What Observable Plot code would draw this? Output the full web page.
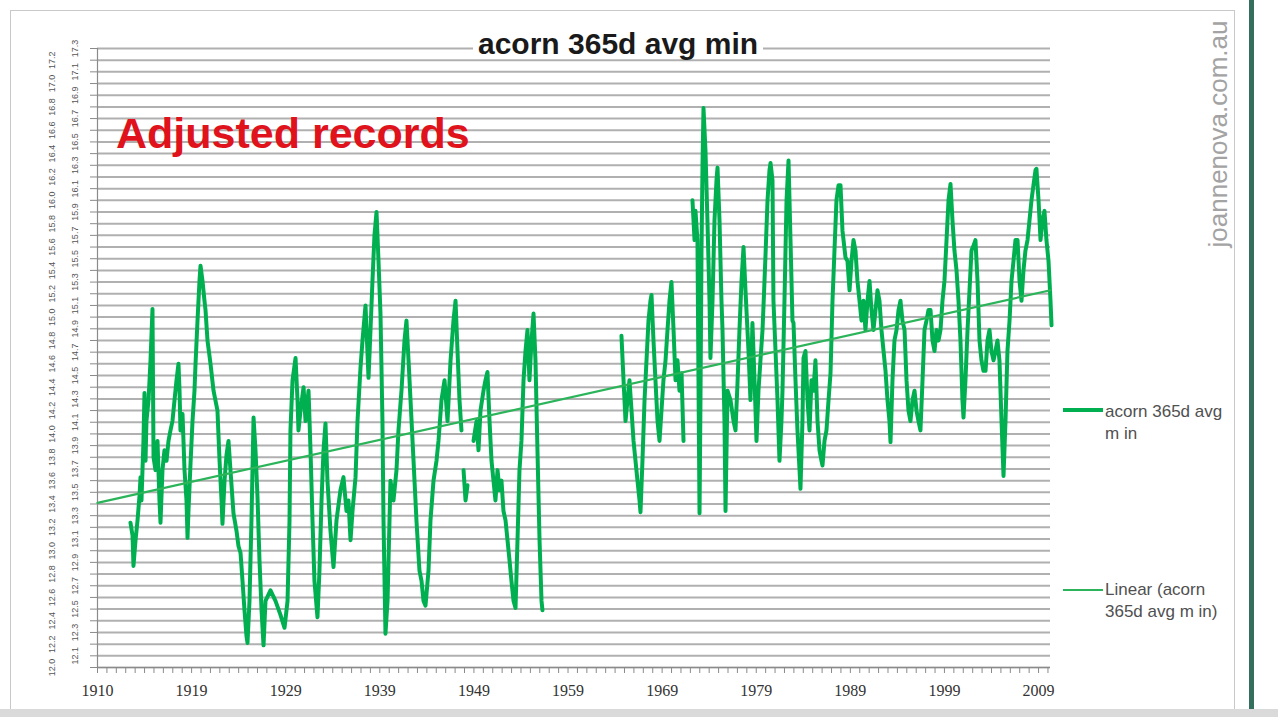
<!DOCTYPE html>
<html><head><meta charset="utf-8">
<script src="https://cdn.jsdelivr.net/npm/d3@7"></script>
<script src="https://cdn.jsdelivr.net/npm/@observablehq/plot@0.6"></script>
<style>
html,body{margin:0;padding:0;background:#fff;}
#wrap{position:relative;width:1278px;height:717px;overflow:hidden;background:#fff;font-family:"Liberation Sans",Arial,sans-serif;}
.abs{position:absolute;white-space:nowrap;}
#frame{left:10px;top:10px;width:1223px;height:730px;border:1px solid #c9c9c9;}
#chart{left:0;top:0;}
#title{left:473px;top:29px;font-weight:bold;font-size:30px;line-height:30px;color:#1a1a1a;background:#fff;padding:0 5px;}
#red{left:116px;top:112px;font-weight:bold;font-size:43px;line-height:43px;color:#e0121b;}
.leg{font-size:17px;line-height:22px;color:#505050;left:1105px;}
.legline{left:1063px;width:40px;}
#wm{left:1098px;top:119px;width:240px;height:30px;line-height:30px;text-align:center;font-size:26px;color:#a3a3a3;transform:rotate(-90deg);}
#gline{left:1249px;top:0;width:5px;height:717px;background:#336f5c;}
#bottom{left:0;top:709px;width:1278px;height:8px;background:#dadada;}
</style></head><body><div id="wrap">
<div class="abs" id="frame"></div>
<div class="abs" id="chart"></div>
<div class="abs" id="title">acorn 365d avg min</div>
<div class="abs" id="red">Adjusted records</div>
<div class="abs legline" style="top:408px;height:4px;background:#00b050;"></div>
<div class="abs leg" style="top:401px;">acorn 365d avg<br>m in</div>
<div class="abs legline" style="top:589px;height:2px;background:#2bb45a;"></div>
<div class="abs leg" style="top:579px;">Linear (acorn<br>365d avg m in)</div>
<div class="abs" id="wm">joannenova.com.au</div>
<div class="abs" id="gline"></div>
<div class="abs" id="bottom"></div>
</div>
<script>
// acorn 365-day average minimum: [year, value]; null = gap in record
const tminPoints = [
[1913.50,13.24],[1913.72,13.13],[1913.82,12.87],[1914.04,13.09],[1914.25,13.26],[1914.46,13.47],[1914.57,13.63],[1914.67,13.43],[1914.88,13.94],[1914.99,14.35],[1915.10,13.77],[1915.20,14.11],[1915.42,14.29],[1915.63,14.63],[1915.84,15.07],[1915.95,13.80],[1916.16,13.69],[1916.37,13.94],[1916.58,13.43],[1916.69,13.24],[1916.90,13.69],[1917.11,13.86],[1917.33,13.77],[1917.54,13.94],[1917.75,14.03],[1917.96,14.11],[1918.18,14.29],[1918.39,14.46],[1918.60,14.60],[1918.71,14.37],[1918.81,14.03],[1919.03,14.17],[1919.24,13.69],[1919.45,13.43],[1919.56,13.11],[1919.66,13.34],[1919.88,13.75],[1920.09,14.11],[1920.30,14.37],[1920.41,14.60],[1920.62,14.97],[1920.83,15.31],[1920.94,15.44],[1921.15,15.31],[1921.36,15.14],[1921.47,15.06],[1921.68,14.80],[1922.00,14.60],[1922.32,14.37],[1922.74,14.20],[1922.96,13.77],[1923.17,13.43],[1923.27,13.23],[1923.49,13.60],[1923.70,13.82],[1923.91,13.94],[1924.12,13.69],[1924.44,13.32],[1924.76,13.17],[1924.97,13.04],[1925.19,12.98],[1925.40,12.74],[1925.61,12.49],[1925.82,12.27],[1925.93,12.21],[1926.14,12.57],[1926.35,13.26],[1926.57,14.14],[1926.78,13.86],[1926.99,13.46],[1927.20,12.92],[1927.42,12.49],[1927.63,12.19],[1927.84,12.57],[1928.37,12.66],[1928.90,12.57],[1929.43,12.45],[1929.86,12.34],[1930.18,12.57],[1930.39,13.26],[1930.49,14.03],[1930.71,14.46],[1931.03,14.65],[1931.24,14.29],[1931.34,14.03],[1931.56,14.20],[1931.88,14.40],[1932.09,14.11],[1932.41,14.37],[1932.62,13.86],[1932.83,13.26],[1933.04,12.74],[1933.36,12.43],[1933.57,12.83],[1933.79,13.43],[1934.00,13.86],[1934.21,14.09],[1934.42,13.60],[1934.74,13.17],[1935.06,12.86],[1935.38,13.26],[1935.80,13.52],[1936.12,13.63],[1936.44,13.34],[1936.65,13.43],[1936.87,13.09],[1937.08,13.34],[1937.40,13.63],[1937.61,14.11],[1937.93,14.57],[1938.14,14.80],[1938.46,15.10],[1938.78,14.48],[1938.99,14.89],[1939.20,15.31],[1939.41,15.70],[1939.63,15.90],[1939.84,15.48],[1940.05,15.03],[1940.26,14.11],[1940.37,13.26],[1940.58,12.29],[1940.80,12.57],[1941.11,13.60],[1941.43,13.43],[1941.75,13.69],[1941.96,14.03],[1942.28,14.37],[1942.60,14.80],[1942.81,14.97],[1943.03,14.63],[1943.24,14.29],[1943.56,13.77],[1943.87,13.26],[1944.19,12.83],[1944.41,12.74],[1944.62,12.57],[1944.83,12.53],[1945.15,12.83],[1945.36,13.26],[1945.68,13.60],[1946.00,13.77],[1946.21,13.94],[1946.53,14.29],[1946.85,14.46],[1947.17,14.11],[1947.49,14.63],[1947.80,14.97],[1948.02,15.14],[1948.23,14.71],[1948.44,14.29],[1948.65,14.03],
[1948.76,null],
[1948.87,13.69],[1949.08,13.43],[1949.29,13.56],
[1949.60,null],
[1949.93,13.94],[1950.25,14.11],[1950.46,13.86],[1950.67,14.20],[1950.99,14.37],[1951.20,14.46],[1951.41,14.53],[1951.63,14.11],[1951.84,13.77],[1952.05,13.60],[1952.26,13.43],[1952.48,13.69],[1952.69,13.52],[1952.90,13.60],[1953.11,13.34],[1953.33,13.26],[1953.54,13.09],[1953.75,12.92],[1953.96,12.74],[1954.18,12.57],[1954.39,12.51],[1954.60,13.09],[1954.81,13.69],[1955.02,13.94],[1955.24,14.46],[1955.45,14.71],[1955.66,14.89],[1955.87,14.46],[1956.09,14.80],[1956.30,15.03],[1956.51,14.63],[1956.72,13.86],[1956.94,13.09],[1957.15,12.57],[1957.25,12.49],
[1961.00,null],
[1965.64,14.84],[1965.86,14.46],[1966.07,14.11],[1966.28,14.29],[1966.49,14.46],[1966.71,14.20],[1966.92,13.94],[1967.13,13.77],[1967.34,13.60],[1967.56,13.43],[1967.66,13.33],[1967.87,13.77],[1968.09,14.29],[1968.30,14.63],[1968.51,14.97],[1968.72,15.14],[1968.83,15.19],[1969.04,14.80],[1969.25,14.46],[1969.47,14.11],[1969.68,13.94],[1969.89,14.20],[1970.10,14.46],[1970.32,14.63],[1970.53,14.89],[1970.74,15.14],[1970.95,15.30],[1971.17,14.89],[1971.38,14.46],[1971.59,14.63],[1971.80,14.37],[1972.02,14.52],[1972.23,13.94],
[1972.70,null],
[1973.18,16.00],[1973.40,15.66],[1973.50,15.91],[1973.71,15.66],[1973.82,14.46],[1973.93,13.32],[1974.03,14.29],[1974.14,15.57],[1974.25,16.32],[1974.35,16.79],[1974.56,16.43],[1974.78,15.80],[1974.99,15.14],[1975.09,14.65],[1975.31,15.14],[1975.52,15.83],[1975.73,16.17],[1975.84,16.28],[1976.05,15.83],[1976.26,15.14],[1976.37,14.89],[1976.58,14.11],[1976.69,13.34],[1976.90,14.37],[1977.22,14.29],[1977.54,14.11],[1977.75,14.03],[1977.96,14.43],[1978.17,14.89],[1978.39,15.31],[1978.60,15.60],[1978.81,15.23],[1979.13,14.71],[1979.34,14.29],[1979.55,14.95],[1979.77,14.46],[1979.98,13.94],[1980.19,14.37],[1980.40,14.63],[1980.62,14.89],[1980.83,15.31],[1980.94,15.54],[1981.15,16.00],[1981.36,16.26],[1981.47,16.32],[1981.68,16.17],[1981.78,15.14],[1982.00,14.71],[1982.21,14.29],[1982.42,13.77],[1982.63,14.11],[1982.74,14.37],[1982.95,15.14],[1983.17,16.00],[1983.38,16.34],[1983.59,15.66],[1983.80,14.97],[1983.91,14.95],[1984.12,14.46],[1984.33,14.03],[1984.55,13.69],[1984.65,13.53],[1984.86,14.11],[1984.97,14.65],[1985.18,14.71],[1985.40,14.29],[1985.61,14.03],[1985.82,14.46],[1986.03,14.37],[1986.24,14.63],[1986.46,14.11],[1986.67,13.86],[1986.88,13.77],[1986.99,13.73],[1987.20,13.94],[1987.41,14.03],[1987.63,14.29],[1987.84,14.52],[1988.05,15.14],[1988.26,15.57],[1988.47,16.00],[1988.69,16.13],[1988.90,16.13],[1989.11,15.74],[1989.43,15.51],[1989.64,15.48],[1989.86,15.23],[1990.07,15.48],[1990.28,15.66],[1990.49,15.57],[1990.70,15.31],[1990.92,15.14],[1991.13,14.97],[1991.34,15.14],[1991.55,14.89],[1991.77,15.14],[1991.98,15.31],[1992.19,15.06],[1992.40,14.89],[1992.62,15.06],[1992.83,15.23],[1993.04,15.14],[1993.25,14.89],[1993.47,14.71],[1993.68,14.54],[1993.89,14.29],[1994.10,14.11],[1994.21,13.93],[1994.42,14.46],[1994.63,14.80],[1994.85,14.89],[1995.06,15.06],[1995.27,15.14],[1995.48,14.97],[1995.70,14.89],[1995.91,14.46],[1996.12,14.20],[1996.33,14.11],[1996.55,14.29],[1996.76,14.37],[1996.97,14.20],[1997.18,14.11],[1997.39,14.03],[1997.61,14.46],[1997.82,14.89],[1998.03,14.97],[1998.24,15.06],[1998.46,15.06],[1998.67,14.80],[1998.88,14.71],[1999.09,14.89],[1999.31,14.80],[1999.52,14.89],[1999.73,15.14],[1999.94,15.31],[2000.16,15.66],[2000.37,16.00],[2000.58,16.14],[2000.79,15.83],[2001.00,15.57],[2001.22,15.40],[2001.43,15.14],[2001.64,14.80],[2001.85,14.29],[2001.96,14.14],[2002.17,14.46],[2002.39,14.89],[2002.60,15.23],[2002.81,15.57],[2003.02,15.61],[2003.23,15.66],[2003.45,15.31],[2003.66,14.80],[2003.87,14.63],[2004.08,14.54],[2004.30,14.54],[2004.51,14.80],[2004.72,14.89],[2004.93,14.71],[2005.15,14.63],[2005.36,14.71],[2005.57,14.80],[2005.78,14.63],[2006.00,14.11],[2006.21,13.64],[2006.42,14.11],[2006.63,14.71],[2006.85,14.97],[2007.06,15.31],[2007.27,15.48],[2007.48,15.66],[2007.70,15.66],[2007.91,15.31],[2008.12,15.14],[2008.33,15.40],[2008.54,15.57],[2008.76,15.66],[2008.97,15.83],[2009.18,16.00],[2009.39,16.13],[2009.61,16.26],[2009.71,16.27],[2009.93,16.00],[2010.14,15.66],[2010.35,15.83],[2010.56,15.91],[2010.77,15.66],[2010.99,15.48],[2011.20,15.14],[2011.31,14.93]
];
// Linear trend (Excel "Linear (acorn 365d avg min)") end points
const trendYears = [1910.0, 2011.2];
const trendTmin = [13.41, 15.23];
// x-axis category labels (one every 3650 days from 1 Jan 1910)
const xTickLabels = ["1910","1919","1929","1939","1949","1959","1969","1979","1989","1999","2009"];
// y-axis tick labels
const yTickLabels = ["12.0","12.1","12.2","12.3","12.4","12.5","12.6","12.7","12.8","12.9",
"13.0","13.1","13.2","13.3","13.4","13.5","13.6","13.7","13.8","13.9",
"14.0","14.1","14.2","14.3","14.4","14.5","14.6","14.7","14.8","14.9",
"15.0","15.1","15.2","15.3","15.4","15.5","15.6","15.7","15.8","15.9",
"16.0","16.1","16.2","16.3","16.4","16.5","16.6","16.7","16.8","16.9",
"17.0","17.1","17.2","17.3"];

const rows = tminPoints.map(([year, t]) => ({year, t}));
const trendRows = trendYears.map((year, i) => ({year, t: trendTmin[i]}));
const xTickYears = xTickLabels.map((_, i) => 1910 + i * 3650 / 365.25);
const xMinor = d3.range(0, 102).map(k => 1910 + k * 365 / 365.25);
const yTicks = yTickLabels.map(Number);
const xLabelRows = xTickLabels.map((label, i) => ({label, year: xTickYears[i]}));
const yLabelRows = yTickLabels.map((label, i) => ({label, v: yTicks[i], i}));

const chart = Plot.plot({
  width: 1278, height: 717,
  marginLeft: 97, marginRight: 228, marginTop: 48, marginBottom: 50,
  x: {type: "linear", domain: [1910, 2011.2]},
  y: {domain: [12.0, 17.3]},
  style: {background: "transparent", overflow: "visible"},
  marks: [
    Plot.gridY(yTicks, {stroke: "#b0b0b0", strokeWidth: 2, strokeOpacity: 1}),
    Plot.axisY({ticks: yTicks, tickSize: 7, tickFormat: () => "", stroke: "#8a8a8a", label: null}),
    Plot.axisX({ticks: xMinor, tickSize: 6, tickFormat: () => "", stroke: "#8a8a8a", label: null}),
    Plot.ruleX([1910], {stroke: "#8a8a8a", strokeWidth: 1.2}),
    Plot.ruleY([12.0], {stroke: "#8a8a8a", strokeWidth: 1.2}),
    Plot.text(yLabelRows.filter(d => d.i % 2 === 0), {y: "v", text: "label", frameAnchor: "left", dx: -45, rotate: -90, textAnchor: "middle", lineAnchor: "middle", fontSize: 9, fill: "#555", fontFamily: "Liberation Sans"}),
    Plot.text(yLabelRows.filter(d => d.i % 2 === 1), {y: "v", text: "label", frameAnchor: "left", dx: -22, rotate: -90, textAnchor: "middle", lineAnchor: "middle", fontSize: 9, fill: "#555", fontFamily: "Liberation Sans"}),
    Plot.text(xLabelRows, {x: "year", text: "label", frameAnchor: "bottom", dy: 23, lineAnchor: "middle", fontSize: 16, fill: "#333", fontFamily: "Liberation Serif"}),
    Plot.line(rows, {x: "year", y: "t", stroke: "#00b050", strokeWidth: 4, strokeLinejoin: "round"}),
    Plot.line(trendRows, {x: "year", y: "t", stroke: "#2bb45a", strokeWidth: 2.2})
  ]
});
document.getElementById("chart").appendChild(chart);
</script>
</body></html>
